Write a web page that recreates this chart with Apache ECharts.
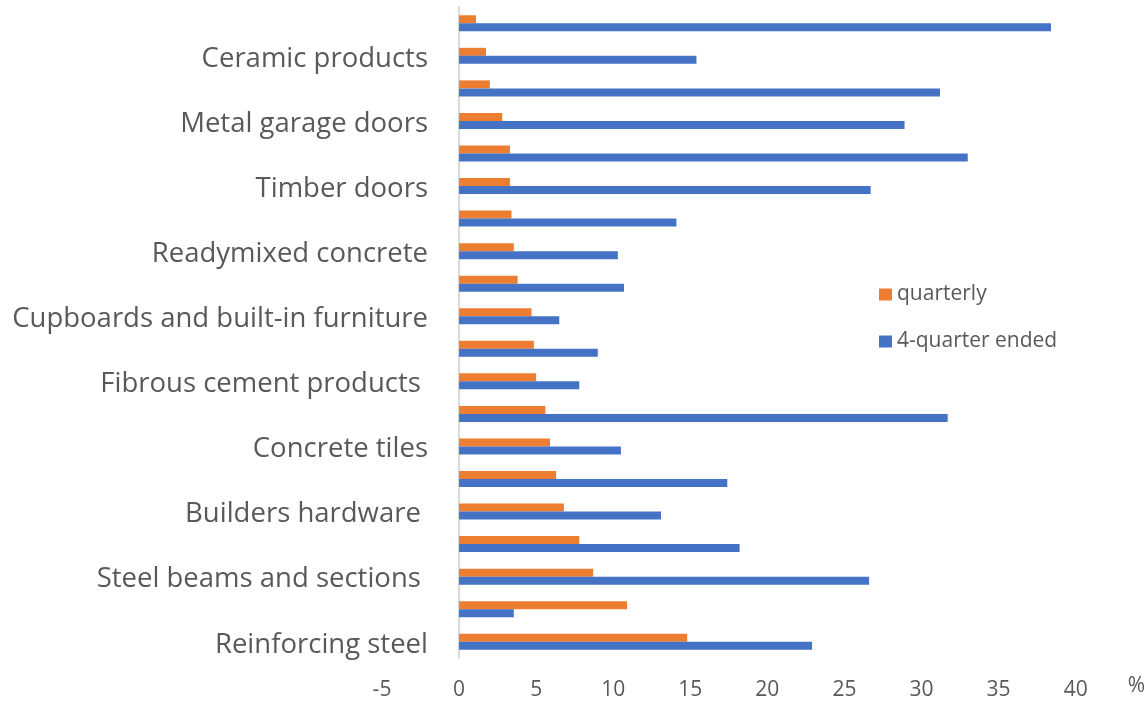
<!DOCTYPE html>
<html>
<head>
<meta charset="utf-8">
<script src="https://cdn.jsdelivr.net/npm/echarts@6/dist/echarts.min.js"></script>
<style>
  html, body { margin: 0; padding: 0; background: #fff; }
  #chart { width: 1148px; height: 701px; }
</style>
</head>
<body>
<div id="chart"></div>
<script>
// categories from bottom to top; the odd ones carry no visible label in the source
var categories = [
  "Reinforcing steel", "Unlabelled 1",
  "Steel beams and sections ", "Unlabelled 2",
  "Builders hardware ", "Unlabelled 3",
  "Concrete tiles", "Unlabelled 4",
  "Fibrous cement products ", "Unlabelled 5",
  "Cupboards and built-in furniture", "Unlabelled 6",
  "Readymixed concrete", "Unlabelled 7",
  "Timber doors", "Unlabelled 8",
  "Metal garage doors", "Unlabelled 9",
  "Ceramic products", "Unlabelled 10"
];
var quarterly = [14.8, 10.9, 8.7, 7.8, 6.8, 6.3, 5.9, 5.6, 5.0, 4.85, 4.7, 3.8, 3.55, 3.4, 3.3, 3.3, 2.8, 2.0, 1.75, 1.1];
var fourQuarter = [22.9, 3.55, 26.6, 18.2, 13.1, 17.4, 10.5, 31.7, 7.8, 9.0, 6.5, 10.7, 10.3, 14.1, 26.7, 33.0, 28.9, 31.2, 15.4, 38.4];
var xMin = -5, xMax = 40, xStep = 5;

var textColor = "#595959";
var font = "Open Sans";

var chart = echarts.init(document.getElementById("chart"));
chart.setOption({
  animation: false,
  textStyle: { fontFamily: font },
  grid: { left: 382, right: 69, top: 7, bottom: 42, containLabel: false },
  legend: {
    orient: "vertical",
    left: 874,
    top: 279,
    itemWidth: 13,
    itemHeight: 12,
    itemGap: 26,
    icon: "rect",
    data: ["quarterly", "4-quarter ended"],
    textStyle: { fontSize: 21, color: textColor, fontFamily: font }
  },
  xAxis: {
    type: "value",
    min: xMin,
    max: xMax,
    interval: xStep,
    name: "%",
    nameLocation: "end",
    nameGap: 52,
    nameTextStyle: { fontSize: 21, color: textColor, verticalAlign: "top", padding: [18, 0, 0, 0] },
    axisLine: { show: false },
    axisTick: { show: false },
    splitLine: { show: false },
    axisLabel: { fontSize: 21, color: textColor, margin: 22 }
  },
  yAxis: {
    type: "category",
    data: categories,
    axisLine: { show: true, onZero: true, lineStyle: { color: "#d9d9d9", width: 2 } },
    axisTick: { show: false },
    axisLabel: {
      interval: 1,
      color: textColor,
      margin: -46,
      formatter: "{c|{value}}",
      rich: { c: { fontSize: 27.5, color: textColor, fontFamily: font, padding: [6, 0, 0, 0] } }
    }
  },
  series: [
    {
      name: "quarterly",
      type: "bar",
      data: quarterly,
      barWidth: 8,
      barGap: "0%",
      itemStyle: { color: "#ED7D31" }
    },
    {
      name: "4-quarter ended",
      type: "bar",
      data: fourQuarter,
      barWidth: 8,
      barGap: "0%",
      itemStyle: { color: "#4472C4" }
    }
  ]
});
</script>
</body>
</html>
